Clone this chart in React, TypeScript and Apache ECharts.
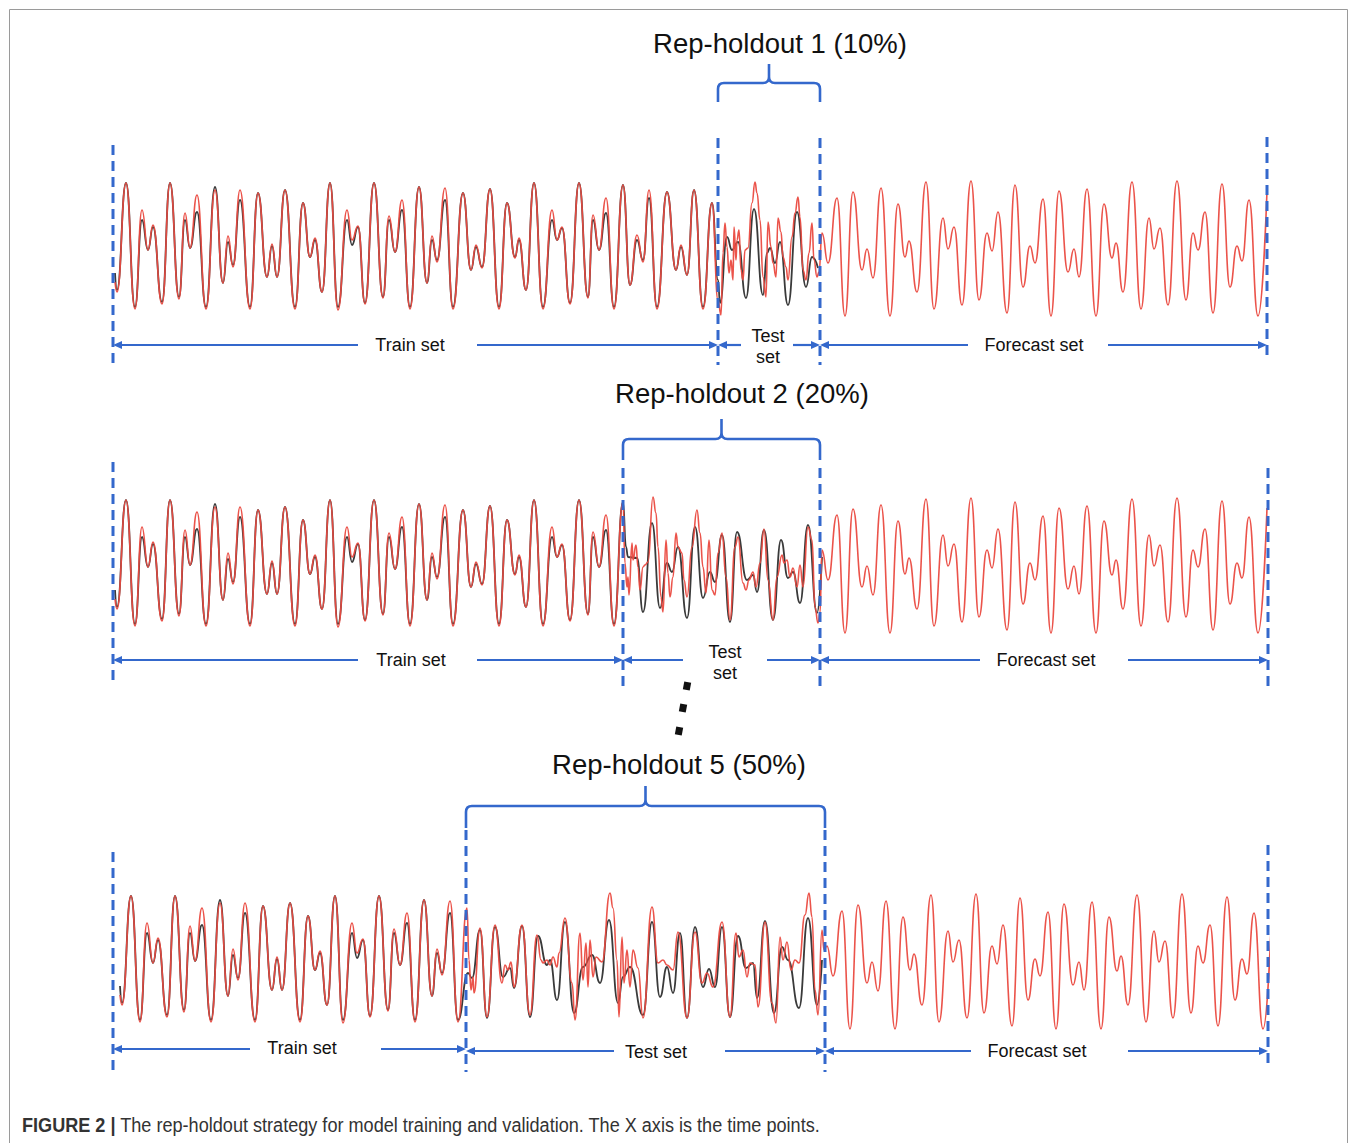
import React, { useEffect, useRef } from "react";
import * as echarts from "echarts";

// ---------------- DATA (time point index, value) ----------------
// training segment (shared by all three panels)
const trainTime = [2, 4, 13, 22, 29, 35, 40, 49, 57, 66, 72, 77, 84, 93, 102, 110, 115, 120, 127, 137, 145, 154, 159, 164, 172, 182, 190, 197, 202, 209, 217, 225, 234, 239, 245, 252, 261, 270, 276, 282, 289, 297, 306, 314, 319, 324, 332, 340, 350, 358, 363, 369, 377, 386, 394, 402, 406, 413, 421, 430, 439, 444, 449, 457, 466, 475, 480, 486, 493, 501, 510, 517, 524, 530, 536, 544, 554, 563, 568, 574, 581, 590, 599, 605];
const trainActual = [47, 30, 137, 13, 100, 70, 93, 18, 137, 23, 100, 72, 108, 13, 133, 37, 78, 55, 120, 13, 127, 43, 74, 43, 130, 13, 117, 63, 80, 28, 137, 13, 100, 75, 93, 17, 137, 23, 100, 68, 110, 13, 133, 37, 80, 60, 120, 13, 127, 50, 73, 53, 131, 13, 117, 63, 80, 30, 137, 13, 100, 80, 92, 17, 137, 23, 100, 70, 107, 13, 135, 35, 80, 60, 122, 13, 128, 50, 73, 45, 130, 13, 117, 40];
const trainFitted = [38, 28, 137, 11, 110, 70, 95, 16, 137, 21, 107, 72, 125, 11, 130, 37, 84, 53, 130, 11, 127, 43, 76, 43, 130, 11, 117, 63, 82, 28, 137, 10, 110, 80, 94, 16, 137, 22, 104, 68, 120, 11, 133, 37, 84, 58, 132, 11, 127, 50, 75, 52, 131, 11, 117, 62, 82, 30, 137, 11, 110, 80, 93, 16, 137, 22, 105, 70, 122, 11, 135, 35, 85, 58, 130, 11, 128, 50, 75, 45, 130, 11, 117, 20];

// forecast segment (red only)
const forecastTime = [709, 715, 724, 732, 740, 749, 754, 760, 768, 777, 785, 792, 796, 804, 813, 821, 830, 835, 841, 849, 858, 866, 874, 879, 885, 894, 902, 910, 917, 922, 930, 938, 946, 955, 961, 966, 974, 983, 991, 999, 1003, 1010, 1019, 1028, 1036, 1041, 1047, 1055, 1064, 1073, 1080, 1085, 1092, 1100, 1109, 1117, 1124, 1129, 1136, 1145, 1154];
const forecastValues = [87, 57, 122, 4, 128, 50, 71, 42, 132, 4, 116, 63, 79, 28, 138, 11, 102, 71, 93, 15, 139, 20, 87, 69, 108, 7, 135, 33, 74, 57, 121, 4, 129, 48, 71, 43, 131, 4, 116, 62, 77, 28, 138, 11, 102, 71, 92, 15, 139, 20, 87, 70, 108, 7, 136, 33, 74, 59, 120, 4, 129];

// Rep-holdout 1 test segment
const test1Time = [607, 614, 619, 625, 633, 641, 650, 654, 657, 662, 667, 675, 684, 693, 699, 705];
const test1Actual = [17, 83, 70, 78, 22, 111, 25, 67, 72, 57, 78, 15, 108, 33, 63, 52];
const test1PredTime = [608, 610, 612, 614, 616, 618, 620, 621, 623, 624, 626, 628, 630, 632, 635, 639, 642, 644, 647, 650, 653, 655, 658, 660, 663, 665, 668, 670, 673, 675, 679, 682, 685, 687, 690, 693, 696, 699, 701, 704, 706];
const test1Pred = [5, 67, 97, 73, 47, 60, 40, 93, 60, 80, 90, 50, 40, 70, 72, 117, 138, 127, 100, 43, 23, 98, 73, 57, 43, 102, 88, 63, 53, 40, 83, 107, 123, 103, 50, 40, 67, 97, 60, 43, 48];

// Rep-holdout 2 test segment
const test2Time = [513, 515, 524, 530, 539, 547, 554, 559, 565, 574, 582, 590, 597, 602, 609, 617, 624, 634, 640, 644, 651, 660, 668, 675, 680, 687, 695, 704, 709];
const test2Actual = [90, 80, 79, 25, 114, 29, 74, 65, 90, 19, 110, 39, 65, 55, 102, 15, 105, 57, 62, 45, 107, 17, 97, 59, 65, 34, 112, 24, 80];
const test2PredTime = [512, 514, 515, 516, 519, 520, 523, 525, 527, 530, 532, 535, 540, 543, 545, 548, 550, 553, 555, 557, 560, 563, 565, 569, 571, 574, 579, 584, 587, 590, 593, 596, 599, 602, 605, 609, 613, 617, 622, 625, 630, 633, 636, 640, 643, 647, 651, 655, 660, 664, 669, 671, 674, 677, 680, 684, 687, 690, 695, 699, 702, 705, 707];
const test2Pred = [74, 50, 60, 42, 94, 77, 92, 70, 47, 70, 72, 75, 140, 124, 90, 40, 25, 97, 64, 40, 60, 104, 90, 84, 57, 40, 90, 127, 104, 70, 44, 97, 47, 42, 84, 104, 60, 17, 90, 100, 54, 47, 57, 65, 50, 74, 108, 57, 17, 60, 82, 74, 77, 60, 69, 50, 72, 50, 110, 97, 30, 14, 24];

// Rep-holdout 5 test segment
const test5Time = [355, 359, 367, 374, 382, 390, 397, 401, 409, 417, 425, 434, 437, 444, 452, 461, 470, 479, 487, 496, 505, 510, 517, 530, 539, 547, 554, 560, 567, 574, 582, 590, 596, 602, 609, 617, 625, 633, 640, 644, 652, 661, 669, 675, 686, 695, 704, 709];
const test5Actual = [60, 55, 103, 15, 106, 56, 65, 45, 107, 16, 97, 68, 73, 33, 111, 20, 66, 78, 50, 113, 30, 56, 66, 18, 111, 36, 66, 40, 100, 15, 106, 46, 64, 46, 106, 16, 97, 65, 70, 35, 112, 20, 86, 73, 25, 115, 28, 73];
const test5PredTime = [354, 356, 358, 360, 361, 367, 374, 382, 389, 392, 395, 398, 401, 409, 417, 424, 428, 430, 434, 437, 440, 444, 446, 452, 459, 462, 467, 470, 473, 475, 477, 480, 483, 489, 497, 500, 504, 506, 509, 511, 514, 517, 520, 525, 530, 539, 545, 550, 554, 560, 565, 574, 582, 589, 594, 600, 609, 617, 623, 626, 630, 634, 637, 642, 645, 652, 659, 663, 667, 670, 674, 678, 682, 686, 692, 696, 699, 702, 705, 709, 711];
const test5Pred = [125, 73, 43, 56, 40, 105, 16, 108, 50, 68, 63, 71, 46, 108, 18, 98, 73, 70, 73, 68, 76, 66, 80, 115, 50, 13, 100, 53, 90, 46, 93, 56, 76, 71, 140, 125, 73, 16, 96, 50, 83, 46, 83, 65, 15, 126, 70, 73, 68, 63, 101, 15, 101, 50, 60, 46, 111, 16, 100, 76, 83, 56, 70, 68, 26, 111, 30, 10, 96, 73, 91, 63, 73, 70, 118, 140, 116, 43, 18, 103, 83];

// split points (time index): start, train|test, test|forecast, end
const splits1 = [0, 605, 707, 1154];
const splits2 = [0, 510, 707, 1155];
const splits5 = [0, 353, 712, 1155];
const titles = ["Rep-holdout 1 (10%)", "Rep-holdout 2 (20%)", "Rep-holdout 5 (50%)"];
const setLabels = ["Train set", "Test\nset", "Forecast set"];
const captionBold = "FIGURE 2 |";
const captionText = " The rep-holdout strategy for model training and validation. The X axis is the time points.";

// ---------------- STYLE / LAYOUT ----------------
const BLUE = "#3468cc";
const FONT = "'Liberation Sans', Arial, Helvetica, sans-serif";
const GRID_LEFT = 113;
const GRID_W = 1155;
const GRID_TOPS = [170, 487, 883];
const GRID_H = 160;
const X_MAX = 1155;
const SHIFTS = [0, 0, 5];

const LAYOUT = [
  {
    lineY: [[145, 365], [138, 365], [138, 365], [137, 355]],
    arrowY: [345, 345, 345],
    gaps: [[358, 477], [741, 793], [968, 1108]],
    labelX: [410, 768, 1034],
    labelY: [345, 346, 345],
    brace: { yBase: 102, yBar: 83, yTip: 64 },
    title: { x: 780, y: 43 },
    testTwoLines: true,
  },
  {
    lineY: [[462, 680], [468, 690], [468, 690], [468, 688]],
    arrowY: [660, 660, 660],
    gaps: [[358, 477], [683, 767], [980, 1128]],
    labelX: [411, 725, 1046],
    labelY: [660, 662, 660],
    brace: { yBase: 460, yBar: 439, yTip: 419 },
    title: { x: 742, y: 393 },
    testTwoLines: true,
  },
  {
    lineY: [[852, 1070], [830, 1072], [830, 1072], [845, 1065]],
    arrowY: [1049, 1051, 1051],
    gaps: [[250, 381], [614, 725], [971, 1128]],
    labelX: [302, 656, 1037],
    labelY: [1048, 1052, 1051],
    brace: { yBase: 828, yBar: 806, yTip: 786 },
    title: { x: 679, y: 764 },
    testTwoLines: false,
  },
];

type Pt = [number, number];
const zip = (t: number[], v: number[], shift = 0): Pt[] => t.map((x, i) => [x + shift, v[i]] as Pt);

const Brace = echarts.graphic.extendShape({
  shape: { x1: 0, x2: 0, yBase: 0, yBar: 0, yTip: 0, r: 6 },
  buildPath(ctx: any, s: any) {
    const xc = (s.x1 + s.x2) / 2;
    const r = s.r;
    ctx.moveTo(s.x1, s.yBase);
    ctx.lineTo(s.x1, s.yBar + r);
    ctx.quadraticCurveTo(s.x1, s.yBar, s.x1 + r, s.yBar);
    ctx.lineTo(xc - r, s.yBar);
    ctx.quadraticCurveTo(xc, s.yBar, xc, s.yBar - r);
    ctx.lineTo(xc, s.yTip);
    ctx.moveTo(xc, s.yTip);
    ctx.lineTo(xc, s.yBar - r);
    ctx.quadraticCurveTo(xc, s.yBar, xc + r, s.yBar);
    ctx.lineTo(s.x2 - r, s.yBar);
    ctx.quadraticCurveTo(s.x2, s.yBar, s.x2, s.yBar + r);
    ctx.lineTo(s.x2, s.yBase);
  },
});
echarts.graphic.registerShape("brace", Brace);

function panelSeries(p: number) {
  const splits = [splits1, splits2, splits5][p];
  const shift = SHIFTS[p];
  const tests = [
    [test1Time, test1Actual, test1PredTime, test1Pred],
    [test2Time, test2Actual, test2PredTime, test2Pred],
    [test5Time, test5Actual, test5PredTime, test5Pred],
  ][p];
  const trainA = zip(trainTime, trainActual, shift).filter((d) => d[0] <= splits[1]);
  const trainF = zip(trainTime, trainFitted, shift).filter((d) => d[0] <= splits[1]);
  const black = trainA.concat(zip(tests[0], tests[1]));
  const red = trainF.concat(zip(tests[2], tests[3])).concat(zip(forecastTime, forecastValues, shift));
  const common = {
    type: "line",
    xAxisIndex: p,
    yAxisIndex: p,
    showSymbol: false,
    symbol: "none",
    smooth: 0.5,
    smoothMonotone: "x",
    silent: true,
    animation: false,
  };
  return [
    { ...common, name: "actual" + p, data: black, z: 2, lineStyle: { color: "#3a3a3a", width: 1.8 } },
    { ...common, name: "predicted" + p, data: red, z: 3, lineStyle: { color: "#ea4a40", width: 1.6, opacity: 0.95 } },
  ];
}

function arrow(x0: number, tip: number, y: number): any[] {
  const dir = tip > x0 ? 1 : -1;
  return [
    {
      type: "line",
      z: 20,
      silent: true,
      shape: { x1: x0, y1: y, x2: tip - dir * 6, y2: y },
      style: { stroke: BLUE, lineWidth: 2.2 },
    },
    {
      type: "polygon",
      z: 20,
      silent: true,
      shape: { points: [[tip, y], [tip - dir * 9, y - 4], [tip - dir * 9, y + 4]] },
      style: { fill: BLUE, stroke: null },
    },
  ];
}

function textEl(text: string, x: number, y: number, size: number, extra: any = {}) {
  return {
    type: "text",
    z: 20,
    silent: true,
    style: {
      text,
      x,
      y,
      fill: "#111",
      fontSize: size,
      fontFamily: FONT,
      align: "center",
      textAlign: "center",
      verticalAlign: "middle",
      textVerticalAlign: "middle",
      ...extra,
    },
  };
}

function buildGraphic(px: (p: number, t: number) => number) {
  const g: any[] = [];
  // frame
  g.push({
    type: "rect",
    z: 1,
    silent: true,
    shape: { x: 9.5, y: 9.5, width: 1338, height: 1200 },
    style: { fill: "none", stroke: "#9a9a9a", lineWidth: 1 },
  });
  [splits1, splits2, splits5].forEach((splits, p) => {
    const L = LAYOUT[p];
    const xs = splits.map((t) => Math.round(px(p, t)));
    xs.forEach((x, i) => {
      g.push({
        type: "line",
        z: 15,
        silent: true,
        shape: { x1: x, y1: L.lineY[i][0], x2: x, y2: L.lineY[i][1] },
        style: { stroke: BLUE, lineWidth: 3, lineDash: [10, 6] },
      });
    });
    for (let k = 0; k < 3; k++) {
      const y = L.arrowY[k];
      g.push(...arrow(L.gaps[k][0], xs[k], y));
      g.push(...arrow(L.gaps[k][1], xs[k + 1], y));
      let label = setLabels[k];
      if (k === 1 && !L.testTwoLines) label = "Test set";
      g.push(textEl(label, L.labelX[k], L.labelY[k], 18, { lineHeight: 21 }));
    }
    g.push({
      type: "brace",
      z: 20,
      silent: true,
      shape: { x1: xs[1], x2: xs[2], yBase: L.brace.yBase, yBar: L.brace.yBar, yTip: L.brace.yTip, r: 6 },
      style: { fill: "none", stroke: BLUE, lineWidth: 2.6 },
    });
    g.push(textEl(titles[p], L.title.x, L.title.y, 27.5));
  });
  // dots between panel 2 and 5
  [[687, 686], [683, 708], [679, 731]].forEach(([x, y]) => {
    g.push({
      type: "rect",
      z: 20,
      silent: true,
      x,
      y,
      rotation: -0.18,
      shape: { x: -3.5, y: -4, width: 7, height: 8 },
      style: { fill: "#111" },
    });
  });
  // caption (condensed look via horizontal scaling)
  g.push({
    type: "text",
    z: 20,
    silent: true,
    x: 22,
    y: 1125,
    scaleX: 0.905,
    style: {
      text: "{b|" + captionBold + "}" + captionText,
      x: 0,
      y: 0,
      fill: "#333",
      fontSize: 20,
      fontFamily: FONT,
      align: "left",
      textAlign: "left",
      verticalAlign: "middle",
      textVerticalAlign: "middle",
      rich: {
        b: { fontWeight: "bold", fontSize: 20, fill: "#333", fontFamily: FONT },
      },
    },
  });
  return g;
}

function buildOption() {
  const grids = GRID_TOPS.map((top) => ({ left: GRID_LEFT, top, width: GRID_W, height: GRID_H, containLabel: false }));
  const xAxes = GRID_TOPS.map((_, i) => ({ type: "value", gridIndex: i, min: 0, max: X_MAX, show: false }));
  const yAxes = GRID_TOPS.map((_, i) => ({ type: "value", gridIndex: i, min: -10, max: 150, show: false }));
  return {
    animation: false,
    backgroundColor: "#ffffff",
    grid: grids,
    xAxis: xAxes,
    yAxis: yAxes,
    series: [0, 1, 2].flatMap((p) => panelSeries(p)),
  };
}

export default function App() {
  const ref = useRef<HTMLDivElement>(null);
  useEffect(() => {
    const el = ref.current;
    if (!el) return;
    const chart = echarts.init(el, undefined, { renderer: "svg", width: 1357, height: 1143 });
    chart.setOption(buildOption() as any);
    const px = (p: number, t: number) => {
      const v = chart.convertToPixel({ xAxisIndex: p } as any, t) as any;
      return typeof v === "number" && isFinite(v) ? v : GRID_LEFT + (t / X_MAX) * GRID_W;
    };
    chart.setOption({ graphic: { elements: buildGraphic(px) } } as any);
    return () => chart.dispose();
  }, []);
  return (
    <div
      ref={ref}
      style={{ position: "absolute", left: 0, top: 0, width: 1357, height: 1143, background: "#fff" }}
    />
  );
}
